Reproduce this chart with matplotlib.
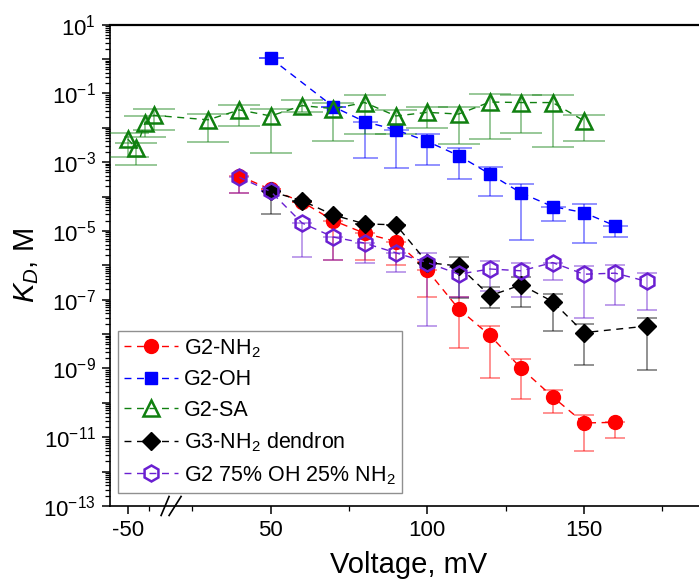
import numpy as np
import matplotlib
matplotlib.use("Agg")
import matplotlib.pyplot as plt
from matplotlib.transforms import blended_transform_factory, ScaledTranslation

plt.rcParams["font.family"] = ["Liberation Sans", "DejaVu Sans"]
plt.rcParams["mathtext.fontset"] = "custom"
plt.rcParams["mathtext.rm"] = "Liberation Sans"
plt.rcParams["mathtext.it"] = "Liberation Sans:italic"
plt.rcParams["axes.unicode_minus"] = False

# --- data (voltage in mV, K_D in M; lo/hi are the error bar ends) ---
x_nh2 = [40, 50, 60, 70, 80, 90, 100, 110, 120, 130, 140, 150, 160]
y_nh2 = [4.0e-4, 1.6e-4, 7.0e-5, 2.0e-5, 8.5e-6, 4.9e-6, 7.1e-7, 5.4e-8, 9.1e-9, 1.0e-9, 1.5e-10, 2.6e-11, 2.7e-11]
hi_nh2 = [4.0e-4, 1.6e-4, 7.0e-5, 2.0e-5, 8.5e-6, 4.9e-6, 7.1e-7, 1.2e-7, 1.7e-8, 1.9e-9, 2.4e-10, 4.5e-11, 2.7e-11]
lo_nh2 = [1.3e-4, 1.6e-4, 7.0e-5, 1.4e-6, 1.4e-6, 1.0e-6, 1.2e-7, 3.9e-9, 5.2e-10, 1.3e-10, 5.0e-11, 4.1e-12, 9.8e-12]

x_oh = [50, 70, 80, 90, 100, 110, 120, 130, 140, 150, 160]
y_oh = [1.05, 4.1e-2, 1.5e-2, 8.7e-3, 4.0e-3, 1.55e-3, 4.5e-4, 1.26e-4, 5.1e-5, 3.4e-5, 1.4e-5]
hi_oh = [1.05, 4.1e-2, 1.5e-2, 8.7e-3, 6.6e-3, 2.5e-3, 7.1e-4, 2.3e-4, 5.1e-5, 6.0e-5, 1.4e-5]
lo_oh = [1.05, 4.1e-2, 1.3e-3, 6.6e-4, 8.0e-4, 3.2e-4, 1.05e-4, 5.5e-6, 1.95e-5, 4.4e-6, 6.5e-6]

x_sa = [-50, -40, -30, -20, 30, 40, 50, 60, 70, 80, 90, 100, 110, 120, 130, 140, 150]
y_sa = [4.7e-3, 2.5e-3, 1.4e-2, 2.3e-2, 1.7e-2, 3.3e-2, 2.2e-2, 4.4e-2, 3.6e-2, 5.4e-2, 2.2e-2, 2.8e-2, 2.5e-2, 5.6e-2, 5.4e-2, 5.4e-2, 1.6e-2]
hi_sa = [6.9e-3, 3.5e-3, 2.2e-2, 3.5e-2, 2.5e-2, 4.6e-2, 3.6e-2, 6.5e-2, 5.4e-2, 8.9e-2, 3.3e-2, 4.1e-2, 4.1e-2, 9.5e-2, 9.0e-2, 9.0e-2, 2.4e-2]
lo_sa = [1.4e-3, 8.3e-4, 5.5e-3, 8.7e-3, 3.8e-3, 1.1e-2, 1.9e-3, 2.9e-2, 4.2e-3, 6.6e-3, 6.6e-3, 1.0e-2, 3.4e-3, 4.7e-3, 7.2e-3, 2.8e-3, 4.0e-3]

x_g3 = [50, 60, 70, 80, 90, 100, 110, 120, 130, 140, 150, 170]
y_g3 = [1.4e-4, 7.6e-5, 2.9e-5, 1.6e-5, 1.5e-5, 1.2e-6, 9.5e-7, 1.3e-7, 2.7e-7, 8.8e-8, 1.1e-8, 1.7e-8]
hi_g3 = [1.4e-4, 7.6e-5, 2.9e-5, 1.6e-5, 1.5e-5, 1.2e-6, 1.8e-6, 2.4e-7, 4.5e-7, 1.5e-7, 1.9e-8, 3.0e-8]
lo_g3 = [3.2e-5, 7.6e-5, 2.9e-5, 1.6e-5, 1.5e-5, 1.2e-6, 1.1e-7, 5.8e-8, 6.3e-8, 1.2e-8, 1.3e-9, 9.1e-10]

x_mix = [40, 50, 60, 70, 80, 90, 100, 110, 120, 130, 140, 150, 160, 170]
y_mix = [3.6e-4, 1.4e-4, 1.7e-5, 6.6e-6, 4.4e-6, 2.3e-6, 1.2e-6, 5.5e-7, 7.8e-7, 6.9e-7, 1.2e-6, 5.5e-7, 5.9e-7, 3.4e-7]
hi_mix = [3.6e-4, 1.4e-4, 1.7e-5, 6.6e-6, 4.4e-6, 2.3e-6, 2.3e-6, 9.1e-7, 1.35e-6, 1.2e-6, 1.2e-6, 9.5e-7, 1.0e-6, 5.9e-7]
lo_mix = [1.3e-4, 1.4e-4, 1.8e-6, 1.4e-6, 1.2e-6, 6.2e-7, 1.7e-8, 1.2e-7, 1.8e-7, 1.2e-7, 3.8e-7, 3.0e-8, 6.8e-8, 5.0e-8]

labels = ["G2-NH$_2$", "G2-OH", "G2-SA", "G3-NH$_2$ dendron", "G2 75% OH 25% NH$_2$"]

# broken x axis: compressed segment below 0 mV, normal scale above
XP = [-500, -5, 17.5, 500]
UP = [4.36 + (-450) * 0.2758, 4.36 + 45 * 0.2758, 17.5, 500]


def fwd(x):
    return np.interp(x, XP, UP)


def inv(u):
    return np.interp(u, UP, XP)


fig = plt.figure(figsize=(6.99, 5.84), dpi=100)
ax = fig.add_axes([0.1574, 0.1336, 0.8555, 0.8243])
ax.set_xscale("function", functions=(fwd, inv))
ax.set_yscale("log")

series = [
    (x_nh2, y_nh2, lo_nh2, hi_nh2, "#ff0000", "o", 10, "#ff0000", 7),
    (x_oh, y_oh, lo_oh, hi_oh, "#0000ff", "s", 9, "#0000ff", 9),
    (x_sa, y_sa, lo_sa, hi_sa, "#108010", "^", 12, "none", 15),
    (x_g3, y_g3, lo_g3, hi_g3, "#000000", "D", 8.7, "#000000", 7.5),
    (x_mix, y_mix, lo_mix, hi_mix, "#6a1fd1", "h", 11.5, "none", 7.5),
]

for i, (x, y, lo, hi, c, m, ms, fc, cap) in enumerate(series):
    y = np.array(y)
    yerr = [y - np.array(lo), np.array(hi) - y]
    ax.errorbar(x, y, yerr=yerr, fmt="none", ecolor=c, alpha=0.5,
                elinewidth=1.2, capsize=cap, capthick=1.2, zorder=2 + i)
    ax.plot(x, y, linestyle=(0, (5, 4)), lw=1.0, color=c, marker=m,
            markersize=ms, markerfacecolor=fc, markeredgecolor=c,
            markeredgewidth=1.8 if fc == "none" else 1.0,
            label=labels[i], zorder=10 + i)

ax.set_xlim(-70.5, 189.6)
ax.set_ylim(1e-13, 10)

ax.set_xticks([-50, 50, 100, 150])
ax.set_xticklabels(["-50", "50", "100", "150"])
ax.set_xticks([-25, 25, 75, 125, 175], minor=True)

exps = list(range(-13, 2))
ax.set_yticks([10.0 ** e for e in exps])
ax.set_yticklabels(["10$^{%d}$" % e if e % 2 else "" for e in exps])
ax.yaxis.set_minor_locator(matplotlib.ticker.LogLocator(base=10, subs=np.arange(2, 10), numticks=50))
ax.yaxis.set_minor_formatter(matplotlib.ticker.NullFormatter())

ax.tick_params(axis="both", which="major", direction="out", length=6, width=1.1, labelsize=16, pad=4)
ax.tick_params(axis="both", which="minor", direction="out", length=3.5, width=0.9)
ax.tick_params(top=False, right=False)
for s in ["left", "bottom"]:
    ax.spines[s].set_linewidth(1.2)
ax.spines["top"].set_linewidth(1.6)
ax.spines["right"].set_visible(False)

# break marks "//" on the x axis
bt = blended_transform_factory(ax.transData, ax.transAxes)
for dx0, dx1 in ((-0.10, -0.02), (-0.02, 0.10)):
    p0 = ScaledTranslation(dx0, -0.095, fig.dpi_scale_trans)
    p1 = ScaledTranslation(dx1, 0.095, fig.dpi_scale_trans)
    x0, y0 = (bt + p0).transform((18.2, 0))
    x1, y1 = (bt + p1).transform((18.2, 0))
    fig.add_artist(plt.Line2D([x0, x1], [y0, y1], transform=None, color="black", lw=1.2))

ax.set_xlabel("Voltage, mV", fontsize=21)
ax.xaxis.set_label_coords(0.5, -0.094)
ax.set_ylabel("$K_D$, M", fontsize=21)
ax.yaxis.set_label_coords(-0.115, 0.5)

leg = ax.legend(loc="lower left", bbox_to_anchor=(0.0134, 0.027), borderaxespad=0,
                fontsize=15.5, handlelength=2.5, handletextpad=0.25, labelspacing=0.45,
                borderpad=0.3, fancybox=False, framealpha=1, edgecolor="#909090")
leg.get_frame().set_linewidth(1.0)

fig.savefig("out.png", dpi=100)
